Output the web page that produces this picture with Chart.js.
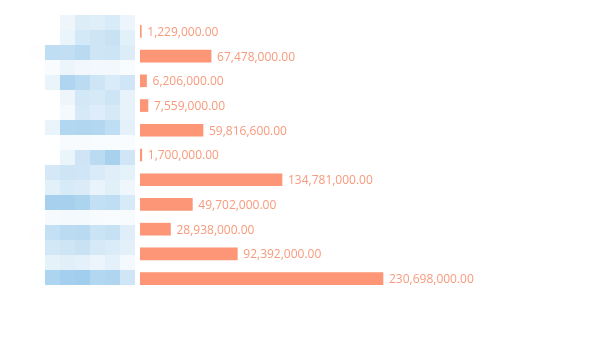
<!DOCTYPE html>
<html>
<head>
<meta charset="utf-8">
<script src="https://cdn.jsdelivr.net/npm/chart.js@4"></script>
<style>
  html, body { margin: 0; padding: 0; background: #fff; }
  #wrap { width: 597px; height: 342px; }
</style>
</head>
<body>
<div id="wrap"><canvas id="amountChart" width="597" height="342"></canvas></div>
<script>
var categories = ['市场营销部', '华东区域分公司', '研发中心一部', '行政管理部', '财务结算中心', '人力资源部',
  '华南区域分公司', '西南区域分公司', '华北区域分公司', '东北区域分公司', '总部直属事业部'];
var amounts = [1229000, 67478000, 6206000, 7559000, 59816600, 1700000,
  134781000, 49702000, 28938000, 92392000, 230698000];

var barColor = '#fc9676';
var labelColor = '#f89a7c';

function money(v) {
  return v.toLocaleString('en-US', { minimumFractionDigits: 2, maximumFractionDigits: 2 });
}

// white page under the chart so the label mosaic averages against white
var whiteBg = {
  id: 'whiteBg',
  beforeDraw: function (chart) {
    var c = chart.ctx;
    c.save();
    c.fillStyle = '#fff';
    c.fillRect(0, 0, chart.width, chart.height);
    c.restore();
  }
};

// value text at the end of every bar
var valueLabels = {
  id: 'valueLabels',
  afterDatasetsDraw: function (chart) {
    var c = chart.ctx;
    var meta = chart.getDatasetMeta(0);
    c.save();
    c.font = '12px "Open Sans", sans-serif';
    c.fillStyle = labelColor;
    c.textAlign = 'left';
    c.textBaseline = 'middle';
    meta.data.forEach(function (bar, i) {
      c.fillText(money(amounts[i]), bar.x + 6, bar.y + 1);
    });
    c.restore();
  }
};

// category names are shown pixelated
var mosaic = {
  id: 'mosaic',
  afterDraw: function (chart) {
    var c = chart.ctx;
    var s = 15;
    for (var by = 15; by < 300; by += s) {
      for (var bx = 30; bx < 135; bx += s) {
        var d = c.getImageData(bx, by, s, s).data;
        var r = 0, g = 0, b = 0, n = d.length / 4;
        for (var k = 0; k < d.length; k += 4) { r += d[k]; g += d[k + 1]; b += d[k + 2]; }
        c.fillStyle = 'rgb(' + Math.round(r / n) + ',' + Math.round(g / n) + ',' + Math.round(b / n) + ')';
        c.fillRect(bx, by, s, s);
      }
    }
  }
};

new Chart(document.getElementById('amountChart'), {
  type: 'bar',
  data: {
    labels: categories,
    datasets: [{
      data: amounts,
      backgroundColor: barColor,
      borderWidth: 0,
      barThickness: 12
    }]
  },
  options: {
    indexAxis: 'y',
    responsive: false,
    animation: false,
    layout: { padding: { top: 19, bottom: 51, left: 0, right: 141 } },
    plugins: {
      legend: { display: false },
      tooltip: { enabled: false }
    },
    scales: {
      x: { display: false, min: 0, max: 300000000 },
      y: {
        grid: { display: false },
        border: { display: false },
        ticks: {
          color: '#2a8fd6',
          padding: 4,
          font: { family: '"Noto Sans CJK SC", sans-serif', size: 12, weight: 'bold' }
        },
        afterFit: function (scale) { scale.width = 140; }
      }
    }
  },
  plugins: [whiteBg, valueLabels, mosaic]
});
</script>
</body>
</html>
